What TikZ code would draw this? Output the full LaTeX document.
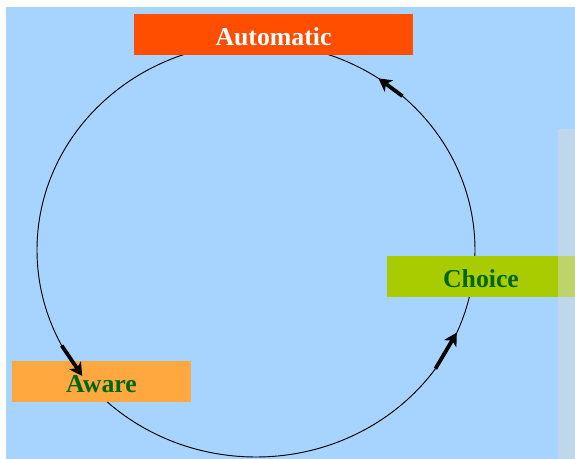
\documentclass[tikz,border=0pt]{standalone}
\usepackage{fontspec}
\setmainfont{Liberation Serif}
\usetikzlibrary{calc,arrows.meta}
\definecolor{skyback}{RGB}{166,212,255}
\definecolor{stripgray}{RGB}{214,218,215}
\definecolor{autored}{RGB}{255,78,0}
\definecolor{choicegreen}{RGB}{168,204,0}
\definecolor{awareorange}{RGB}{255,168,64}
\definecolor{labelgreen}{RGB}{0,102,0}

\begin{document}
\begin{tikzpicture}[x=0.03cm, y=-0.03cm,
    stage/.style={minimum height=1.23cm, inner sep=0pt, text height=18.5pt, text depth=0pt,
        font=\bfseries\fontsize{22}{26}\selectfont},
    flow/.style={line width=3.2pt, -{Stealth[length=11pt, width=12pt, inset=3pt]}}]
                % Background and frame
                \useasboundingbox (0,0) rectangle (575,459);
                \fill[skyback] (6,7) rectangle (575,459);
            
                % Draw the cycle
                \coordinate (ctr) at (256,250);
                \draw[line width=0.8pt] (ctr) ellipse [x radius=6.57cm, y radius=6.21cm];
            
                % Draw nodes for the three stages
                \node[stage, fill=autored, text=white, minimum width=8.37cm] (auto) at (273.5,34.5) {Automatic};
                \node[stage, fill=choicegreen, text=labelgreen, minimum width=5.64cm] (choice) at (481,276.5) {Choice};
                \node[stage, fill=awareorange, text=labelgreen, minimum width=5.37cm] (aware) at (101.5,382) {Aware};
            
                % Pale strip on the right
                \fill[stripgray, opacity=0.5] (558,129) rectangle (575,459);
            
                % Points on the cycle for the arrows
                \coordinate (up1) at ($(ctr)+(48:6.57cm and 6.21cm)$);
                \coordinate (up2) at ($(ctr)+(56:6.57cm and 6.21cm)$);
                \coordinate (dn1) at ($(ctr)+(207.5:6.57cm and 6.21cm)$);
                \coordinate (dn2) at ($(ctr)+(217.5:6.57cm and 6.21cm)$);
                \coordinate (rt1) at ($(ctr)+(-35:6.57cm and 6.21cm)$);
                \coordinate (rt2) at ($(ctr)+(-23.5:6.57cm and 6.21cm)$);
            
                % Draw the direction arrows
                \draw[flow] (up1) -- (up2); % towards Automatic
                \draw[flow] (dn1) -- (dn2); % towards Aware
                \draw[flow] (rt1) -- (rt2); % towards Choice
            \end{tikzpicture}
\end{document}
